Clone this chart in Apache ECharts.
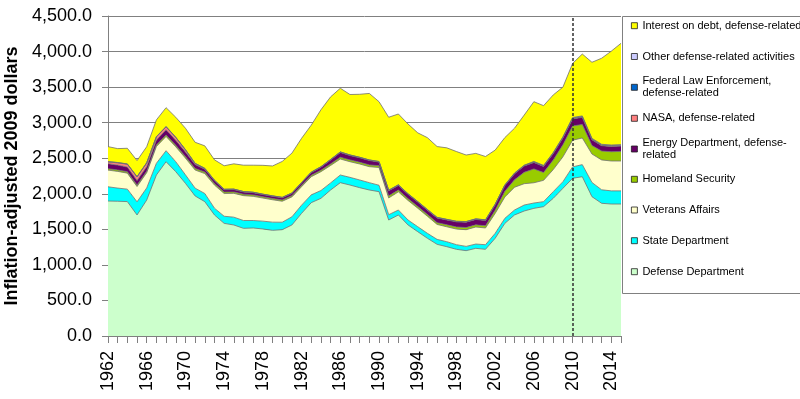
<!DOCTYPE html>
<html>
<head>
<meta charset="utf-8">
<script src="https://cdn.jsdelivr.net/npm/echarts@6/dist/echarts.min.js"></script>
<style>
html, body { margin: 0; padding: 0; background: #fff; }
#chart { width: 800px; height: 399px; }
</style>
</head>
<body>
<div id="chart"></div>
<script>
const years = ['1962','1963','1964','1965','1966','1967','1968','1969','1970','1971','1972','1973',
  '1974','1975','1976','1977','1978','1979','1980','1981','1982','1983','1984','1985','1986','1987','1988','1989',
  '1990','1991','1992','1993','1994','1995','1996','1997','1998','1999','2000','2001',
  '2002','2003','2004','2005','2006','2007','2008','2009','2010','2011','2012','2013','2014','2015']

const defense = [1898,1895,1890,1702,1912,2264,2451,2311,2147,1969,1889,1702,
  1584,1561,1514,1519,1505,1486,1495,1561,1725,1875,1936,2053,2156,2123,2086,2053,
  2030,1631,1702,1561,1467,1374,1289,1256,1219,1200,1233,1219,
  1374,1584,1702,1758,1795,1819,1936,2077,2218,2240,1959,1866,1856,1856]
const state = [200,185,175,185,170,165,155,140,120,110,115,95,
  100,110,110,105,110,115,105,115,115,110,110,100,108,108,108,103,
  90,75,70,70,70,70,70,70,65,60,60,65,
  70,71,70,84,75,70,94,93,160,170,200,190,185,185]
const veterans = [235,235,225,215,215,235,200,210,235,255,280,325,
  320,335,350,340,325,315,295,280,260,255,265,245,225,220,225,225,
  250,235,255,275,260,240,210,210,220,235,240,235,
  280,300,320,300,285,300,310,350,375,375,400,420,420,420]
const homeland = [20,20,20,20,20,22,22,22,22,22,22,22,
  20,20,20,20,18,18,18,18,20,20,20,22,25,25,25,25,
  25,30,25,25,25,25,25,28,30,30,30,30,
  45,80,105,160,195,110,135,170,200,190,120,125,130,135]
const energy = [70,68,66,65,65,70,72,70,65,55,40,38,
  33,33,32,32,31,31,31,31,34,38,43,55,67,62,62,62,
  51,71,66,61,61,61,66,68,71,76,76,76,
  75,80,85,88,90,85,90,95,100,100,80,75,75,75]
const nasa = [25,32,39,50,50,43,41,38,28,13,8,5,
  4,4,3,3,3,3,3,3,3,4,4,4,4,4,4,4,
  4,4,4,4,4,4,4,4,4,4,4,4,
  4,4,4,5,5,5,5,5,5,5,5,5,5,5]
const fedLaw = [3,3,3,3,3,3,3,3,3,3,3,3,
  2,2,2,2,2,2,2,2,2,2,2,3,3,3,3,3,
  3,3,3,3,3,3,3,3,3,3,3,3,
  3,3,3,4,5,5,5,5,8,8,8,8,8,8]
const other = [2,2,2,2,2,2,2,2,2,2,2,2,
  1,1,1,1,1,1,1,1,1,1,1,1,1,1,1,1,
  2,2,2,2,2,2,2,2,2,2,2,2,
  3,3,3,3,5,5,5,5,7,7,7,7,7,7]
const interest = [210,195,220,225,225,235,265,280,300,295,315,285,
  330,355,370,380,405,420,505,560,620,660,800,880,895,850,885,935,
  840,1025,995,980,965,1010,995,1005,980,935,920,890,
  760,665,630,705,840,840,810,700,760,870,1070,1210,1320,1425]

const names = ['Defense Department','State Department','Veterans Affairs','Homeland Security',
  'Energy Department, defense-related','NASA, defense-related','Federal Law Enforcement, defense-related',
  'Other defense-related activities','Interest on debt, defense-related']
const colors = ['#ccffcc','#00ffff','#ffffcc','#99cc00','#660066','#ff8080','#0066cc','#ccccff','#ffff00']
const values = [defense,state,veterans,homeland,energy,nasa,fedLaw,other,interest]

const font = 'Liberation Sans, Arial, sans-serif'
const mychart = echarts.init(document.getElementById('chart'))

const series = names.map((n,i)=>({
  name: n,
  type: 'line',
  stack: 'total',
  symbol: 'none',
  showSymbol: false,
  data: values[i],
  itemStyle: { color: colors[i] },
  lineStyle: { color: '#707070', width: 0.8 },
  areaStyle: { color: colors[i], opacity: 1 },
  emphasis: { disabled: true }
}))
// dashed line at 2010
series[8].markLine = {
  silent: true,
  symbol: ['none','none'],
  label: { show: false },
  lineStyle: { color: '#303030', type: [3,2], width: 1.5 },
  data: [{ xAxis: '2010' }]
}

// legend rows, icon centre y, two-line ones get padding so the square sits on line one
const legendRows = [
  { name: names[8], y: 25.7 },
  { name: names[7], y: 56.5 },
  { name: names[6], y: 87.3, text: 'Federal Law Enforcement,\ndefense-related' },
  { name: names[5], y: 118.3 },
  { name: names[4], y: 149, text: 'Energy Department, defense-\nrelated' },
  { name: names[3], y: 179.3 },
  { name: names[2], y: 210 },
  { name: names[1], y: 240.7 },
  { name: names[0], y: 271.7 }
]
const legend = legendRows.map(r=>({
  data: [r.name],
  left: 631,
  top: r.text ? r.y - 18 : r.y - 6,
  padding: 0,
  icon: 'rect',
  itemWidth: 6,
  itemHeight: 6,
  itemGap: 4,
  selectedMode: false,
  itemStyle: { borderColor: '#202020', borderWidth: 0.8 },
  formatter: r.text ? ()=>r.text : undefined,
  textStyle: { fontFamily: font, fontSize: 11, lineHeight: 12, color: '#000',
    padding: r.text ? [12,0,0,0] : 0 }
}))

const option = {
  animation: false,
  grid: { left: 108, right: 179, top: 16, bottom: 63, outerBoundsMode: 'none', containLabel: false },
  legend: legend,
  graphic: [{
    type: 'rect',
    shape: { x: 622.5, y: 16.5, width: 200, height: 277 },
    style: { fill: 'none', stroke: '#808080', lineWidth: 1 },
    silent: true
  }],
  xAxis: {
    type: 'category',
    boundaryGap: false,
    data: years,
    axisLine: { lineStyle: { color: '#808080' } },
    axisTick: { interval: 0, length: 7, lineStyle: { color: '#808080' } },
    axisLabel: { interval: 3, rotate: 90, fontSize: 18, fontFamily: font, color: '#000', margin: 15 },
    splitLine: { show: false }
  },
  yAxis: {
    type: 'value',
    min: 0,
    max: 4500,
    interval: 500,
    name: 'Inflation-adjusted 2009 dollars',
    nameLocation: 'middle',
    nameGap: 81,
    nameTextStyle: { fontSize: 18, fontWeight: 'bold', fontFamily: font, color: '#000' },
    axisLine: { show: true, lineStyle: { color: '#808080' } },
    axisTick: { show: true, length: 6, lineStyle: { color: '#808080' } },
    axisLabel: {
      fontSize: 18, fontFamily: font, color: '#000', margin: 16,
      formatter: v => v.toLocaleString('en-US', { minimumFractionDigits: 1, maximumFractionDigits: 1 })
    },
    splitLine: { lineStyle: { color: '#808080', width: 1 } }
  },
  series: series
}
mychart.setOption(option, true)
</script>
</body>
</html>
